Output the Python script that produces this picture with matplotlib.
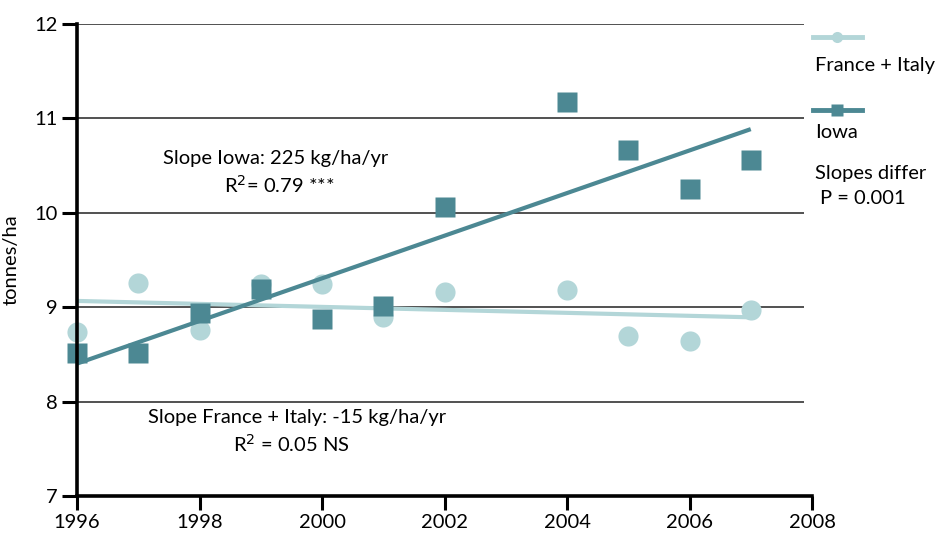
import numpy as np
import matplotlib
matplotlib.use("Agg")
import matplotlib.pyplot as plt
from matplotlib.lines import Line2D

plt.rcParams['font.family'] = ['Lato', 'DejaVu Sans']

years = [1996, 1997, 1998, 1999, 2000, 2001, 2002, 2004, 2005, 2006, 2007]
iowa = [8.51, 8.51, 8.94, 9.19, 8.88, 9.01, 10.06, 11.17, 10.67, 10.25, 10.56]
france_italy = [8.74, 9.26, 8.76, 9.25, 9.25, 8.90, 9.16, 9.18, 8.69, 8.64, 8.97]
x_ticks = [1996, 1998, 2000, 2002, 2004, 2006, 2008]
y_ticks = [7, 8, 9, 10, 11, 12]

c_iowa = '#4C8893'
c_fr = '#B3D6D8'

fig = plt.figure(figsize=(9.48, 5.34), dpi=100)
ax = fig.add_axes([77/948, 1-496/534, (812-77)/948, (496-24)/534])
ax.set_xlim(1996, 2008)
ax.set_ylim(7, 12)

xg = 1996 + (804-77)/(735/12)
ax.hlines([8, 9, 10, 11, 12], 1996, xg, colors='#333333', lw=1.2, zorder=1)

x = np.array(years, dtype=float)
pf = np.polyfit(x, france_italy, 1)
pi = np.polyfit(x, iowa, 1)
xx = np.array([years[0], years[-1]], dtype=float)

ax.plot(x, france_italy, 'o', color=c_fr, ms=14.5, mec='none', zorder=2, clip_on=False)
ax.plot(xx, np.polyval(pf, xx), '-', color=c_fr, lw=3, zorder=3, solid_capstyle='butt')
ax.plot(x, iowa, 's', color=c_iowa, ms=14.5, mec='none', zorder=4, clip_on=False)
ax.plot(xx, np.polyval(pi, xx), '-', color=c_iowa, lw=3, zorder=5, solid_capstyle='butt')

for s in ['top', 'right']:
    ax.spines[s].set_visible(False)
for s in ['left', 'bottom']:
    ax.spines[s].set_linewidth(2.6)
    ax.spines[s].set_zorder(6)
ax.set_xticks(x_ticks)
ax.set_yticks(y_ticks)
ax.tick_params(axis='y', direction='out', length=11, width=2.2, labelsize=14.5, pad=3)
ax.tick_params(axis='x', direction='out', length=10, width=2.2, labelsize=14.5, pad=3)
ax.set_ylabel('tonnes/ha', fontsize=14.5)
ax.yaxis.set_label_coords(-0.078, 0.5)

fs = 14.5
ax.text(1999.25, 10.58, 'Slope Iowa: 225 kg/ha/yr', ha='center', va='center', fontsize=fs)
ax.text(1999.3, 10.30, 'R$^2$= 0.79 ***', ha='center', va='center', fontsize=fs)
ax.text(1999.6, 7.83, 'Slope France + Italy: -15 kg/ha/yr', ha='center', va='center', fontsize=fs)
ax.text(1999.5, 7.55, 'R$^2$ = 0.05 NS', ha='center', va='center', fontsize=fs)

# legend (outside, manual)
def fy(py):
    return 1 - py/534
def fx(px):
    return px/948
fig.add_artist(Line2D([fx(813), fx(862)], [fy(37), fy(37)], color=c_fr, lw=3.5))
fig.add_artist(Line2D([fx(837)], [fy(37)], marker='o', color=c_fr, ms=8, mec='none'))
fig.add_artist(Line2D([fx(813), fx(862)], [fy(110), fy(110)], color=c_iowa, lw=3.5))
fig.add_artist(Line2D([fx(837)], [fy(110)], marker='s', color=c_iowa, ms=8, mec='none'))
fig.text(fx(815), fy(66), 'France + Italy', ha='left', va='center', fontsize=fs)
fig.text(fx(815), fy(133), 'Iowa', ha='left', va='center', fontsize=fs)
fig.text(fx(815), fy(174), 'Slopes differ', ha='left', va='center', fontsize=fs)
fig.text(fx(820), fy(198), 'P = 0.001', ha='left', va='center', fontsize=fs)

fig.savefig('out.png', dpi=100)
